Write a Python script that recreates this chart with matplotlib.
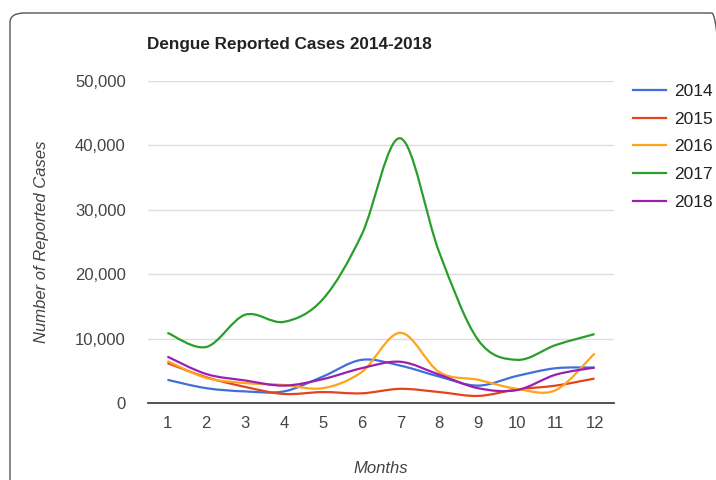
import numpy as np
import matplotlib
matplotlib.use('Agg')
from matplotlib import pyplot as plt
from matplotlib.path import Path
from matplotlib.patches import PathPatch, FancyBboxPatch
from matplotlib.lines import Line2D
from matplotlib.ticker import FuncFormatter

plt.rcParams['font.family'] = ['Liberation Sans', 'DejaVu Sans']

months = [1, 2, 3, 4, 5, 6, 7, 8, 9, 10, 11, 12]
cases_2014 = [3600, 2300, 1800, 1800, 4100, 6700, 5800, 4100, 2700, 4200, 5400, 5500]
cases_2015 = [6200, 4000, 2500, 1400, 1700, 1500, 2200, 1700, 1100, 2100, 2700, 3800]
cases_2016 = [6500, 3900, 3100, 2800, 2300, 4800, 10900, 4800, 3600, 2200, 2000, 7700]
cases_2017 = [10900, 8700, 13700, 12600, 16100, 26100, 41100, 23400, 9800, 6700, 9000, 10700]
cases_2018 = [7200, 4500, 3500, 2700, 3700, 5400, 6400, 4400, 2300, 2000, 4400, 5500]
years = ['2014', '2015', '2016', '2017', '2018']
colors = ['#3f6fd8', '#e5431f', '#ffa31a', '#2a9e2a', '#9a1fb0']


def smooth_path(x, y):
    # catmull-rom style bezier through the points, like google's curveType function
    x = np.asarray(x, float)
    y = np.asarray(y, float)
    verts = [(x[0], y[0])]
    codes = [Path.MOVETO]
    n = len(x)
    for i in range(n - 1):
        p0 = i - 1 if i > 0 else i
        p3 = i + 2 if i + 2 < n else i + 1
        c1 = (x[i] + (x[i + 1] - x[p0]) / 6, y[i] + (y[i + 1] - y[p0]) / 6)
        c2 = (x[i + 1] - (x[p3] - x[i]) / 6, y[i + 1] - (y[p3] - y[i]) / 6)
        verts += [c1, c2, (x[i + 1], y[i + 1])]
        codes += [Path.CURVE4] * 3
    return Path(verts, codes)


fig = plt.figure(figsize=(7.16, 4.8), dpi=100)
ax = fig.add_axes([148 / 716, 77 / 480, 466 / 716, 322 / 480])

series = [cases_2014, cases_2015, cases_2016, cases_2017, cases_2018]
handles = []
for vals, c, lab in zip(series, colors, years):
    ax.add_patch(PathPatch(smooth_path(months, vals), fill=False, edgecolor=c, lw=1.6, zorder=3))
    handles.append(Line2D([], [], color=c, lw=1.6, label=lab))

ax.set_xlim(0.5, 12.5)
ax.set_ylim(0, 50000)
ax.set_xticks(months)
ax.set_yticks([0, 10000, 20000, 30000, 40000, 50000])
ax.yaxis.set_major_formatter(FuncFormatter(lambda v, p: f'{int(v):,}'))
ax.grid(axis='y', color='#dddddd', lw=1)
ax.set_axisbelow(True)
for s in ['top', 'right', 'left']:
    ax.spines[s].set_visible(False)
ax.spines['bottom'].set_color('#444444')
ax.spines['bottom'].set_linewidth(1.3)
ax.tick_params(length=0, labelsize=12, colors='#444444')
ax.tick_params(axis='y', pad=16)
ax.tick_params(axis='x', pad=9)

ax.set_xlabel('Months', fontstyle='italic', fontsize=12, color='#444444', labelpad=22)
ax.set_ylabel('Number of Reported Cases', fontstyle='italic', fontsize=12, color='#444444', labelpad=19)
fig.text(147 / 716, 1 - 44 / 480, 'Dengue Reported Cases 2014-2018', fontsize=12.3,
         fontweight='bold', va='center', ha='left', color='#222222')

fig.legend(handles=handles, loc='upper left', bbox_to_anchor=(626 / 716, 1 - 77 / 480),
           frameon=False, fontsize=12.5, handlelength=1.9, labelspacing=0.72, handletextpad=0.45,
           labelcolor='#222222', borderaxespad=0)

border = FancyBboxPatch((10 / 716, -0.1), 1.0, 1 - 13 / 480 + 0.1, transform=fig.transFigure,
                        boxstyle='round,pad=0,rounding_size=0.02', fill=False,
                        edgecolor='#555555', lw=1.0, clip_on=False)
fig.patches.append(border)

fig.savefig('out.png', dpi=100)
